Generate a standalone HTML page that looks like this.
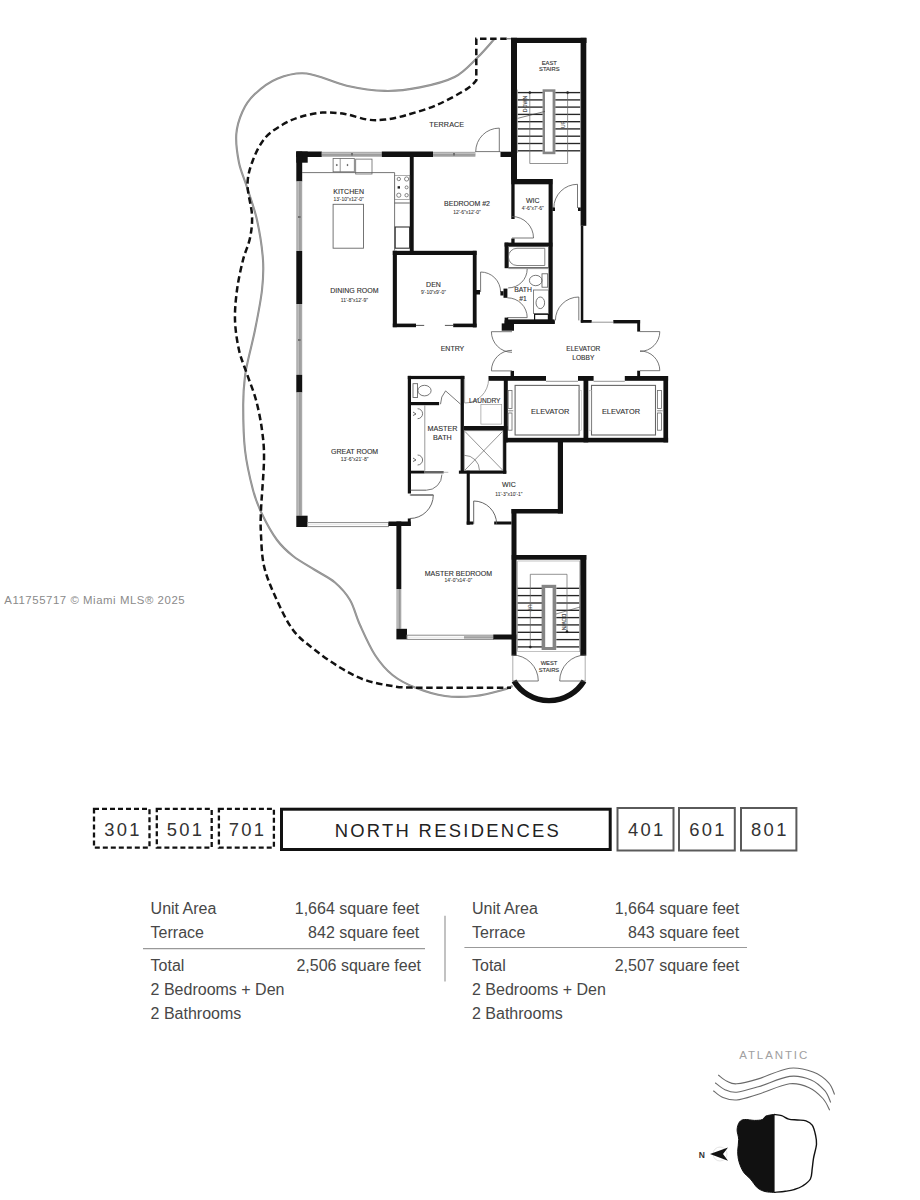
<!DOCTYPE html>
<html><head><meta charset="utf-8"><title>Floor plan</title>
<style>
html,body{margin:0;padding:0;background:#fff;}
body{width:920px;height:1200px;overflow:hidden;}
svg{display:block;font-family:"Liberation Sans", sans-serif;}
</style></head>
<body>
<svg width="920" height="1200" viewBox="0 0 920 1200">
<rect width="920" height="1200" fill="#fff"/>
<path d="M494.6,38.7 C491.7,41.9 483.9,51.4 477.2,57.8 C470.5,64.2 464.2,72.1 454.6,77.0 C445.0,81.9 431.4,85.1 419.8,87.4 C408.2,89.7 397.2,91.2 385.0,90.9 C372.8,90.6 359.8,88.6 346.7,85.7 C333.6,82.8 318.3,74.7 306.7,73.5 C295.1,72.3 285.9,75.2 277.2,78.7 C268.5,82.2 260.4,88.8 254.6,94.3 C248.8,99.8 245.4,105.0 242.4,111.7 C239.4,118.4 236.9,125.9 236.3,134.3 C235.7,142.7 237.2,153.5 238.9,162.2 C240.6,170.9 243.7,176.9 246.7,186.5 C249.7,196.1 254.3,207.8 257.0,220.0 C259.7,232.2 262.2,248.3 263.0,260.0 C263.8,271.7 263.3,278.3 262.0,290.0 C260.7,301.7 257.2,319.0 255.0,330.0 C252.8,341.0 250.7,348.3 249.0,356.0 C247.3,363.7 246.0,367.8 245.0,376.0 C244.0,384.2 243.2,392.7 243.2,405.0 C243.2,417.3 243.4,435.8 245.0,450.0 C246.6,464.2 250.2,479.3 253.0,490.0 C255.8,500.7 258.0,505.7 262.0,514.0 C266.0,522.3 271.8,533.0 277.0,540.0 C282.2,547.0 286.7,551.0 293.0,556.0 C299.3,561.0 308.0,565.6 315.0,570.0 C322.0,574.4 329.2,577.5 335.0,582.5 C340.8,587.5 345.8,592.9 350.0,600.0 C354.2,607.1 355.8,615.8 360.0,625.0 C364.2,634.2 369.6,646.7 375.0,655.0 C380.4,663.3 385.8,669.6 392.5,675.0 C399.2,680.4 406.2,684.0 415.0,687.5 C423.8,691.0 435.0,694.6 445.0,696.0 C455.0,697.4 465.4,697.0 475.0,696.0 C484.6,695.0 496.2,691.7 502.5,690.0 C508.8,688.3 510.8,686.7 512.5,686.0" fill="none" stroke="#8e8e8e" stroke-width="2.1"/>
<path d="M494.6,38.7 C491.7,41.9 483.9,51.4 477.2,57.8 C470.5,64.2 464.2,72.1 454.6,77.0 C445.0,81.9 431.4,85.1 419.8,87.4 C408.2,89.7 397.2,91.2 385.0,90.9 C372.8,90.6 359.8,88.6 346.7,85.7 C333.6,82.8 318.3,74.7 306.7,73.5 C295.1,72.3 285.9,75.2 277.2,78.7 C268.5,82.2 260.4,88.8 254.6,94.3 C248.8,99.8 245.4,105.0 242.4,111.7 C239.4,118.4 236.9,125.9 236.3,134.3 C235.7,142.7 237.2,153.5 238.9,162.2 C240.6,170.9 243.7,176.9 246.7,186.5 C249.7,196.1 254.3,207.8 257.0,220.0 C259.7,232.2 262.2,248.3 263.0,260.0 C263.8,271.7 263.3,278.3 262.0,290.0 C260.7,301.7 257.2,319.0 255.0,330.0 C252.8,341.0 250.7,348.3 249.0,356.0 C247.3,363.7 246.0,367.8 245.0,376.0 C244.0,384.2 243.2,392.7 243.2,405.0 C243.2,417.3 243.4,435.8 245.0,450.0 C246.6,464.2 250.2,479.3 253.0,490.0 C255.8,500.7 258.0,505.7 262.0,514.0 C266.0,522.3 271.8,533.0 277.0,540.0 C282.2,547.0 286.7,551.0 293.0,556.0 C299.3,561.0 308.0,565.6 315.0,570.0 C322.0,574.4 329.2,577.5 335.0,582.5 C340.8,587.5 345.8,592.9 350.0,600.0 C354.2,607.1 355.8,615.8 360.0,625.0 C364.2,634.2 369.6,646.7 375.0,655.0 C380.4,663.3 385.8,669.6 392.5,675.0 C399.2,680.4 406.2,684.0 415.0,687.5 C423.8,691.0 435.0,694.6 445.0,696.0 C455.0,697.4 465.4,697.0 475.0,696.0 C484.6,695.0 496.2,691.7 502.5,690.0 C508.8,688.3 510.8,686.7 512.5,686.0" fill="none" stroke="#a4a4a4" stroke-width="0.7"/>
<path d="M506.7,38.7 L476.3,38.7 L476.3,80.4 C474.7,81.9 473.2,85.0 466.7,89.1 C460.2,93.2 447.3,100.4 437.2,104.8 C427.1,109.2 414.6,112.7 405.9,115.2 C397.2,117.7 391.4,118.9 385.0,119.6 C378.6,120.3 374.3,120.5 367.6,119.6 C360.9,118.7 352.5,115.2 345.0,114.0 C337.5,112.8 329.9,112.1 322.4,112.6 C314.9,113.1 306.7,115.0 300.0,117.0 C293.3,119.0 288.2,121.3 282.4,124.8 C276.6,128.3 269.9,132.1 265.0,138.0 C260.1,143.9 255.9,152.3 253.0,160.0 C250.1,167.7 247.7,174.8 247.5,184.0 C247.3,193.2 251.6,206.0 252.0,215.0 C252.4,224.0 251.5,230.5 250.0,238.0 C248.5,245.5 245.2,251.3 243.0,260.0 C240.8,268.7 238.3,280.0 237.0,290.0 C235.7,300.0 234.7,310.0 235.0,320.0 C235.3,330.0 237.0,341.0 239.0,350.0 C241.0,359.0 244.2,365.7 247.0,374.0 C249.8,382.3 253.5,390.7 256.0,400.0 C258.5,409.3 260.7,420.0 262.0,430.0 C263.3,440.0 264.2,446.7 264.0,460.0 C263.8,473.3 261.5,497.5 261.0,510.0 C260.5,522.5 260.5,525.7 261.0,535.0 C261.5,544.3 261.7,555.8 264.0,566.0 C266.3,576.2 270.2,585.3 275.0,596.0 C279.8,606.7 286.3,621.0 293.0,630.0 C299.7,639.0 307.2,643.8 315.0,650.0 C322.8,656.2 331.7,662.5 340.0,667.5 C348.3,672.5 355.8,676.8 365.0,680.0 C374.2,683.2 386.7,685.2 395.0,686.5 C403.3,687.8 411.7,687.5 415.0,687.7 L511,687.7" fill="none" stroke="#111" stroke-width="2.5" stroke-dasharray="6.5,3.6"/>
<line x1="506.7" y1="38.7" x2="511.0" y2="38.7" stroke="#888" stroke-width="1.5"/>
<rect x="296.3" y="151.5" width="25.5" height="5.5" fill="#111"/>
<rect x="321.8" y="151.8" width="60.0" height="5.0" fill="#a9a9a9"/>
<line x1="321.8" y1="153.3" x2="381.8" y2="153.3" stroke="#c9c9c9" stroke-width="0.8"/>
<line x1="321.8" y1="154.9" x2="381.8" y2="154.9" stroke="#8f8f8f" stroke-width="0.7"/>
<rect x="381.8" y="151.5" width="51.2" height="5.5" fill="#111"/>
<rect x="433.0" y="151.8" width="42.4" height="5.0" fill="#a9a9a9"/>
<line x1="433.0" y1="153.3" x2="475.4" y2="153.3" stroke="#c9c9c9" stroke-width="0.8"/>
<line x1="433.0" y1="154.9" x2="475.4" y2="154.9" stroke="#8f8f8f" stroke-width="0.7"/>
<rect x="500.5" y="151.7" width="11.0" height="5.3" fill="#111"/>
<rect x="296.3" y="151.5" width="11.4" height="11.2" fill="#111"/>
<rect x="296.3" y="151.5" width="5.9" height="30.0" fill="#111"/>
<rect x="296.3" y="181.5" width="5.9" height="69.5" fill="#a9a9a9"/>
<line x1="298.2" y1="181.5" x2="298.2" y2="251.0" stroke="#c9c9c9" stroke-width="0.8"/>
<line x1="299.9" y1="181.5" x2="299.9" y2="251.0" stroke="#8f8f8f" stroke-width="0.7"/>
<rect x="296.3" y="251.0" width="5.9" height="53.0" fill="#111"/>
<rect x="296.3" y="304.0" width="5.9" height="70.8" fill="#a9a9a9"/>
<line x1="298.2" y1="304.0" x2="298.2" y2="374.8" stroke="#c9c9c9" stroke-width="0.8"/>
<line x1="299.9" y1="304.0" x2="299.9" y2="374.8" stroke="#8f8f8f" stroke-width="0.7"/>
<rect x="296.3" y="374.8" width="5.9" height="17.7" fill="#111"/>
<rect x="296.3" y="392.5" width="5.9" height="123.2" fill="#a9a9a9"/>
<line x1="298.2" y1="392.5" x2="298.2" y2="515.7" stroke="#c9c9c9" stroke-width="0.8"/>
<line x1="299.9" y1="392.5" x2="299.9" y2="515.7" stroke="#8f8f8f" stroke-width="0.7"/>
<rect x="296.3" y="515.7" width="11.3" height="11.3" fill="#111"/>
<rect x="307.6" y="522.6" width="80.9" height="4.0" fill="#fff" stroke="#8a8a8a" stroke-width="1"/>
<line x1="307.6" y1="524.6" x2="388.5" y2="524.6" stroke="#d8d8d8" stroke-width="0.6"/>
<rect x="388.5" y="521.5" width="22.2" height="4.5" fill="#111"/>
<rect x="407.8" y="518.5" width="2.9" height="7.5" fill="#111"/>
<rect x="396.4" y="521.5" width="4.9" height="67.5" fill="#111"/>
<rect x="396.4" y="589.0" width="4.9" height="39.8" fill="#a9a9a9"/>
<line x1="397.9" y1="589.0" x2="397.9" y2="628.8" stroke="#c9c9c9" stroke-width="0.8"/>
<line x1="399.5" y1="589.0" x2="399.5" y2="628.8" stroke="#8f8f8f" stroke-width="0.7"/>
<rect x="396.4" y="628.8" width="10.6" height="10.6" fill="#111"/>
<rect x="407.0" y="635.2" width="86.4" height="4.2" fill="#fff" stroke="#8a8a8a" stroke-width="1"/>
<line x1="407.0" y1="637.3" x2="493.4" y2="637.3" stroke="#d8d8d8" stroke-width="0.6"/>
<rect x="464.0" y="636.2" width="29.4" height="2.4" fill="#a0a0a0"/>
<rect x="493.4" y="634.5" width="23.1" height="5.0" fill="#111"/>
<rect x="511.5" y="509.0" width="5.0" height="146.7" fill="#111"/>
<rect x="511.5" y="509.0" width="51.5" height="4.5" fill="#111"/>
<rect x="557.8" y="439.0" width="5.2" height="74.5" fill="#111"/>
<rect x="466.7" y="470.5" width="3.1" height="54.1" fill="#111"/>
<rect x="466.7" y="521.5" width="6.6" height="3.1" fill="#111"/>
<rect x="494.2" y="521.5" width="17.3" height="3.0" fill="#111"/>
<rect x="488.5" y="376.0" width="57.5" height="4.8" fill="#111"/>
<rect x="578.0" y="376.0" width="15.6" height="4.8" fill="#111"/>
<rect x="624.8" y="376.0" width="43.3" height="4.8" fill="#111"/>
<rect x="503.8" y="376.0" width="4.0" height="66.4" fill="#111"/>
<rect x="503.8" y="437.8" width="164.3" height="4.6" fill="#111"/>
<rect x="663.4" y="376.0" width="4.7" height="66.4" fill="#111"/>
<rect x="583.5" y="376.0" width="4.8" height="66.4" fill="#111"/>
<rect x="463.9" y="426.0" width="43.7" height="4.6" fill="#111"/>
<rect x="407.8" y="375.9" width="56.8" height="3.2" fill="#111"/>
<rect x="407.8" y="375.9" width="3.2" height="117.6" fill="#111"/>
<rect x="460.6" y="375.9" width="3.3" height="97.1" fill="#111"/>
<rect x="411.0" y="402.0" width="28.1" height="3.2" fill="#111"/>
<rect x="411.0" y="470.7" width="13.6" height="2.8" fill="#111"/>
<rect x="458.9" y="470.6" width="47.4" height="3.1" fill="#111"/>
<rect x="503.0" y="430.0" width="3.3" height="43.7" fill="#111"/>
<rect x="409.8" y="157.0" width="3.9" height="94.0" fill="#111"/>
<rect x="392.8" y="250.8" width="83.8" height="4.2" fill="#111"/>
<rect x="392.8" y="250.8" width="4.1" height="76.4" fill="#111"/>
<rect x="472.8" y="250.8" width="3.8" height="76.6" fill="#111"/>
<rect x="392.8" y="323.6" width="23.2" height="3.6" fill="#111"/>
<rect x="453.2" y="323.6" width="23.4" height="3.6" fill="#111"/>
<rect x="476.0" y="290.0" width="4.0" height="4.5" fill="#111"/>
<rect x="511.0" y="37.8" width="6.0" height="141.7" fill="#111"/>
<rect x="511.0" y="37.8" width="75.5" height="5.2" fill="#111"/>
<rect x="580.6" y="37.8" width="5.7" height="188.0" fill="#111"/>
<rect x="580.8" y="225.8" width="2.5" height="96.7" fill="#111"/>
<rect x="511.3" y="179.0" width="41.1" height="5.3" fill="#111"/>
<rect x="511.3" y="179.0" width="3.3" height="40.0" fill="#111"/>
<rect x="548.6" y="179.0" width="4.1" height="145.0" fill="#111"/>
<rect x="511.3" y="238.5" width="3.3" height="4.5" fill="#111"/>
<rect x="504.6" y="242.6" width="47.8" height="4.0" fill="#111"/>
<rect x="504.6" y="242.6" width="3.8" height="25.6" fill="#111"/>
<rect x="504.6" y="320.4" width="50.2" height="3.6" fill="#111"/>
<rect x="580.8" y="320.0" width="10.9" height="2.8" fill="#111"/>
<rect x="613.3" y="320.0" width="26.8" height="3.4" fill="#111"/>
<rect x="637.2" y="320.0" width="2.9" height="11.6" fill="#111"/>
<rect x="637.2" y="370.7" width="2.9" height="5.8" fill="#111"/>
<rect x="505.8" y="319.4" width="48.7" height="4.0" fill="#111"/>
<rect x="501.7" y="323.4" width="12.3" height="7.3" fill="#111"/>
<rect x="510.6" y="370.9" width="3.4" height="5.6" fill="#111"/>
<rect x="511.7" y="555.0" width="74.6" height="4.7" fill="#111"/>
<rect x="580.3" y="555.0" width="6.0" height="100.7" fill="#111"/>
<path d="M514,681 A41,41 0 0 0 584,681" fill="none" stroke="#111" stroke-width="5.4"/>
<line x1="302.0" y1="172.6" x2="394.6" y2="172.6" stroke="#666" stroke-width="0.9"/>
<line x1="394.6" y1="172.6" x2="394.6" y2="250.8" stroke="#666" stroke-width="0.9"/>
<rect x="333.1" y="158.4" width="21.2" height="13.4" fill="none" stroke="#666" stroke-width="0.8" rx="0"/>
<line x1="340.2" y1="158.4" x2="340.2" y2="171.8" stroke="#666" stroke-width="0.7"/>
<circle cx="336.8" cy="165.0" r="0.6" fill="#444" stroke="#444" stroke-width="0.6"/>
<circle cx="347.5" cy="165.0" r="0.6" fill="#444" stroke="#444" stroke-width="0.6"/>
<rect x="355.7" y="159.1" width="16.3" height="14.9" fill="none" stroke="#666" stroke-width="0.8" rx="0"/>
<rect x="394.6" y="175.4" width="15.2" height="24.0" fill="none" stroke="#777" stroke-width="0.6" rx="0"/>
<circle cx="398.8" cy="179.0" r="1.7" fill="none" stroke="#555" stroke-width="0.7"/>
<circle cx="406.6" cy="179.0" r="2.1" fill="none" stroke="#555" stroke-width="0.7"/>
<circle cx="406.6" cy="187.4" r="1.5" fill="none" stroke="#555" stroke-width="0.7"/>
<circle cx="398.8" cy="195.2" r="2.1" fill="none" stroke="#555" stroke-width="0.7"/>
<circle cx="406.6" cy="195.2" r="1.7" fill="none" stroke="#555" stroke-width="0.7"/>
<rect x="397.6" y="186.2" width="2.4" height="2.4" fill="#222"/>
<line x1="394.6" y1="203.0" x2="409.8" y2="203.0" stroke="#555" stroke-width="0.9"/>
<rect x="395.2" y="227.0" width="14.4" height="21.2" fill="none" stroke="#333" stroke-width="1.1" rx="0"/>
<rect x="333.1" y="204.3" width="30.4" height="43.9" fill="none" stroke="#666" stroke-width="0.9" rx="0"/>
<rect x="508.4" y="246.6" width="40.2" height="21.0" fill="none" stroke="#555" stroke-width="0.9" rx="0"/>
<path d="M517,248.3 L544.8,248.3 L544.8,265.5 L517,265.5 A8.6,8.6 0 0 1 517,248.3 Z" fill="none" stroke="#666" stroke-width="0.8"/>
<line x1="508.4" y1="268.6" x2="548.6" y2="268.6" stroke="#666" stroke-width="0.7"/>
<rect x="542.0" y="273.8" width="5.7" height="13.4" fill="none" stroke="#555" stroke-width="0.8" rx="0"/>
<ellipse cx="535.7" cy="280.5" rx="6.3" ry="5.2" fill="none" stroke="#555" stroke-width="0.8"/>
<rect x="533.6" y="290.0" width="15.0" height="23.4" fill="none" stroke="#666" stroke-width="0.8" rx="0"/>
<ellipse cx="540.3" cy="302.8" rx="4.3" ry="5.8" fill="none" stroke="#555" stroke-width="0.8"/>
<rect x="534.6" y="314.3" width="13.8" height="6.1" fill="none" stroke="#111" stroke-width="1.2" rx="0"/>
<rect x="413.0" y="383.7" width="4.6" height="13.7" fill="none" stroke="#555" stroke-width="0.8" rx="0"/>
<ellipse cx="424.5" cy="390.6" rx="6.6" ry="5.3" fill="none" stroke="#555" stroke-width="0.8"/>
<line x1="424.8" y1="405.2" x2="424.8" y2="470.7" stroke="#999" stroke-width="1.0"/>
<path d="M417.6,408.7 A5,5 0 0 1 417.6,418.7" fill="none" stroke="#555" stroke-width="0.8"/>
<path d="M417.6,455 A5,5 0 0 1 417.6,465" fill="none" stroke="#555" stroke-width="0.8"/>
<line x1="413.0" y1="412.0" x2="416.0" y2="414.0" stroke="#444" stroke-width="0.8"/>
<line x1="413.0" y1="415.5" x2="416.0" y2="414.0" stroke="#444" stroke-width="0.8"/>
<line x1="413.0" y1="458.0" x2="416.0" y2="460.0" stroke="#444" stroke-width="0.8"/>
<line x1="413.0" y1="461.5" x2="416.0" y2="460.0" stroke="#444" stroke-width="0.8"/>
<line x1="465.0" y1="431.5" x2="502.5" y2="470.0" stroke="#666" stroke-width="0.7"/>
<line x1="502.5" y1="431.5" x2="465.0" y2="470.0" stroke="#666" stroke-width="0.7"/>
<rect x="464.3" y="430.8" width="38.7" height="39.8" fill="none" stroke="#777" stroke-width="0.6" rx="0"/>
<path d="M464.3,455.3 A15.2,15.2 0 0 1 479.5,470.5" fill="none" stroke="#666" stroke-width="0.7"/>
<rect x="424.6" y="471.0" width="19.1" height="2.5" fill="#666"/>
<line x1="443.7" y1="472.3" x2="448.3" y2="472.3" stroke="#888" stroke-width="0.6"/>
<rect x="480.9" y="404.6" width="20.8" height="19.5" fill="none" stroke="#999" stroke-width="0.7" rx="0"/>
<rect x="515.1" y="385.4" width="64.0" height="49.6" fill="none" stroke="#666" stroke-width="1.1" rx="0"/>
<rect x="591.5" y="385.4" width="64.0" height="49.6" fill="none" stroke="#666" stroke-width="1.1" rx="0"/>
<line x1="546.0" y1="381.3" x2="578.0" y2="381.3" stroke="#777" stroke-width="0.8"/>
<line x1="593.6" y1="381.3" x2="624.8" y2="381.3" stroke="#777" stroke-width="0.8"/>
<rect x="508.2" y="390.5" width="3.8" height="18.0" fill="none" stroke="#6a6a6a" stroke-width="0.8" rx="0"/>
<rect x="508.2" y="413.0" width="3.8" height="17.2" fill="none" stroke="#6a6a6a" stroke-width="0.8" rx="0"/>
<line x1="507.7" y1="410.8" x2="513.2" y2="410.8" stroke="#666" stroke-width="0.8"/>
<rect x="657.6" y="390.5" width="3.8" height="18.0" fill="none" stroke="#6a6a6a" stroke-width="0.8" rx="0"/>
<rect x="657.6" y="413.0" width="3.8" height="17.2" fill="none" stroke="#6a6a6a" stroke-width="0.8" rx="0"/>
<line x1="657.1" y1="410.8" x2="662.6" y2="410.8" stroke="#666" stroke-width="0.8"/>
<rect x="578.5" y="390.5" width="2.8" height="39.7" fill="none" stroke="#aaa" stroke-width="0.5" rx="0"/>
<rect x="589.0" y="390.5" width="2.8" height="39.7" fill="none" stroke="#aaa" stroke-width="0.5" rx="0"/>
<path d="M499.3,128.1 A23.6,23.6 0 0 0 475.7,151.7" fill="none" stroke="#555" stroke-width="0.8"/>
<line x1="499.3" y1="151.7" x2="499.3" y2="128.1" stroke="#555" stroke-width="0.8"/>
<line x1="475.4" y1="151.6" x2="500.5" y2="151.6" stroke="#555" stroke-width="0.8"/>
<path d="M577.5,184.3 A23.7,23.7 0 0 0 553.8,208.0" fill="none" stroke="#555" stroke-width="0.8"/>
<line x1="577.5" y1="208.0" x2="577.5" y2="184.3" stroke="#555" stroke-width="0.8"/>
<rect x="552.4" y="207.5" width="2.6" height="3.5" fill="#111"/>
<rect x="578.0" y="207.5" width="2.8" height="3.5" fill="#111"/>
<path d="M533.5,238.0 A21.5,21.5 0 0 0 512.0,216.5" fill="none" stroke="#555" stroke-width="0.8"/>
<line x1="512.0" y1="238.0" x2="533.5" y2="238.0" stroke="#555" stroke-width="0.8"/>
<path d="M480.6,272.0 A20.0,20.0 0 0 1 500.6,292.0" fill="none" stroke="#555" stroke-width="0.8"/>
<line x1="480.6" y1="292.0" x2="480.6" y2="272.0" stroke="#555" stroke-width="0.8"/>
<path d="M527.2,268.9 A19.0,19.0 0 0 1 508.2,287.9" fill="none" stroke="#555" stroke-width="0.8"/>
<path d="M527.2,317.6 A19.8,19.8 0 0 0 507.4,297.8" fill="none" stroke="#555" stroke-width="0.8"/>
<line x1="507.4" y1="317.6" x2="527.2" y2="317.6" stroke="#555" stroke-width="0.8"/>
<rect x="503.5" y="288.6" width="3.9" height="9.2" fill="#111"/>
<rect x="500.4" y="291.2" width="3.1" height="4.3" fill="#111"/>
<rect x="504.6" y="317.6" width="3.6" height="6.4" fill="#111"/>
<path d="M578.8,297.0 A23.4,23.4 0 0 0 555.4,320.4" fill="none" stroke="#555" stroke-width="0.8"/>
<line x1="578.8" y1="320.4" x2="578.8" y2="297.0" stroke="#555" stroke-width="0.8"/>
<path d="M491.4,331.7 A20.6,20.6 0 0 0 512.0,352.3" fill="none" stroke="#555" stroke-width="0.8"/>
<line x1="512.0" y1="331.7" x2="491.4" y2="331.7" stroke="#555" stroke-width="0.8"/>
<path d="M491.4,370.9 A20.6,20.6 0 0 1 512.0,350.3" fill="none" stroke="#555" stroke-width="0.8"/>
<line x1="512.0" y1="370.9" x2="491.4" y2="370.9" stroke="#555" stroke-width="0.8"/>
<path d="M659.8,331.6 A19.8,19.8 0 0 1 640.0,351.4" fill="none" stroke="#555" stroke-width="0.8"/>
<line x1="640.0" y1="331.6" x2="659.8" y2="331.6" stroke="#555" stroke-width="0.8"/>
<path d="M659.8,370.7 A19.8,19.8 0 0 0 640.0,350.9" fill="none" stroke="#555" stroke-width="0.8"/>
<line x1="640.0" y1="370.7" x2="659.8" y2="370.7" stroke="#555" stroke-width="0.8"/>
<path d="M464.6,403.0 A24.0,24.0 0 0 0 488.6,379.0" fill="none" stroke="#999" stroke-width="0.9"/>
<line x1="464.6" y1="379.0" x2="464.6" y2="403.0" stroke="#999" stroke-width="0.9"/>
<path d="M445.6,390.9 A20.1,20.1 0 0 0 440.5,404.2" fill="none" stroke="#555" stroke-width="0.8"/>
<line x1="460.6" y1="404.2" x2="445.6" y2="390.9" stroke="#555" stroke-width="0.8"/>
<path d="M441.9,474.6 A15.6,15.6 0 0 1 426.3,490.2" fill="none" stroke="#555" stroke-width="0.8"/>
<line x1="410.7" y1="490.2" x2="426.3" y2="490.2" stroke="#777" stroke-width="1.2"/>
<path d="M433.3,495.0 A23.5,23.5 0 0 1 409.8,518.5" fill="none" stroke="#555" stroke-width="0.9"/>
<line x1="409.8" y1="495.0" x2="433.3" y2="495.0" stroke="#555" stroke-width="0.9"/>
<line x1="410.7" y1="495.0" x2="433.3" y2="495.0" stroke="#777" stroke-width="1.4"/>
<path d="M473.7,501.0 A22.9,22.9 0 0 1 496.6,523.9" fill="none" stroke="#555" stroke-width="0.9"/>
<line x1="473.7" y1="523.9" x2="473.7" y2="501.0" stroke="#555" stroke-width="0.9"/>
<path d="M538.3,681.0 A26.0,26.0 0 0 0 512.3,655.0" fill="none" stroke="#555" stroke-width="0.8"/>
<line x1="512.3" y1="681.0" x2="538.3" y2="681.0" stroke="#555" stroke-width="0.8"/>
<path d="M559.7,681.0 A26.0,26.0 0 0 1 585.7,655.0" fill="none" stroke="#555" stroke-width="0.8"/>
<line x1="585.7" y1="681.0" x2="559.7" y2="681.0" stroke="#555" stroke-width="0.8"/>
<line x1="512.8" y1="655.7" x2="512.8" y2="681.0" stroke="#999" stroke-width="0.8"/>
<line x1="585.2" y1="655.7" x2="585.2" y2="681.0" stroke="#999" stroke-width="0.8"/>
<line x1="416.0" y1="325.4" x2="424.2" y2="325.4" stroke="#555" stroke-width="1.0"/>
<line x1="444.9" y1="325.4" x2="453.2" y2="325.4" stroke="#555" stroke-width="1.0"/>
<line x1="591.7" y1="322.2" x2="613.3" y2="322.2" stroke="#888" stroke-width="0.9"/>
<rect x="298.0" y="216.0" width="2.6" height="2.0" fill="#707070"/>
<rect x="298.0" y="339.0" width="2.6" height="2.0" fill="#707070"/>
<rect x="351.0" y="153.0" width="2.0" height="2.5" fill="#707070"/>
<rect x="453.0" y="153.0" width="2.0" height="2.5" fill="#707070"/>
<line x1="517.4" y1="92.6" x2="542.8" y2="92.6" stroke="#262626" stroke-width="1.35"/>
<line x1="555.2" y1="92.6" x2="580.6" y2="92.6" stroke="#262626" stroke-width="1.35"/>
<line x1="517.4" y1="99.9" x2="542.8" y2="99.9" stroke="#262626" stroke-width="1.35"/>
<line x1="555.2" y1="99.9" x2="580.6" y2="99.9" stroke="#262626" stroke-width="1.35"/>
<line x1="517.4" y1="107.1" x2="542.8" y2="107.1" stroke="#262626" stroke-width="1.35"/>
<line x1="555.2" y1="107.1" x2="580.6" y2="107.1" stroke="#262626" stroke-width="1.35"/>
<line x1="517.4" y1="114.4" x2="542.8" y2="114.4" stroke="#262626" stroke-width="1.35"/>
<line x1="555.2" y1="114.4" x2="580.6" y2="114.4" stroke="#262626" stroke-width="1.35"/>
<line x1="517.4" y1="121.7" x2="542.8" y2="121.7" stroke="#262626" stroke-width="1.35"/>
<line x1="555.2" y1="121.7" x2="580.6" y2="121.7" stroke="#262626" stroke-width="1.35"/>
<line x1="517.4" y1="128.9" x2="542.8" y2="128.9" stroke="#262626" stroke-width="1.35"/>
<line x1="555.2" y1="128.9" x2="580.6" y2="128.9" stroke="#262626" stroke-width="1.35"/>
<line x1="517.4" y1="136.2" x2="542.8" y2="136.2" stroke="#262626" stroke-width="1.35"/>
<line x1="555.2" y1="136.2" x2="580.6" y2="136.2" stroke="#262626" stroke-width="1.35"/>
<line x1="517.4" y1="143.5" x2="542.8" y2="143.5" stroke="#262626" stroke-width="1.35"/>
<line x1="555.2" y1="143.5" x2="580.6" y2="143.5" stroke="#262626" stroke-width="1.35"/>
<line x1="517.4" y1="150.8" x2="542.8" y2="150.8" stroke="#262626" stroke-width="1.35"/>
<line x1="555.2" y1="150.8" x2="580.6" y2="150.8" stroke="#262626" stroke-width="1.35"/>
<line x1="517.4" y1="89.6" x2="517.4" y2="152.8" stroke="#999" stroke-width="0.8"/>
<line x1="580.6" y1="89.6" x2="580.6" y2="152.8" stroke="#999" stroke-width="0.8"/>
<rect x="542.6" y="89.3" width="12.8" height="64.9" fill="#858585"/>
<rect x="545.0" y="91.8" width="7.6" height="59.8" fill="#fff"/>
<line x1="529.8" y1="92.6" x2="529.8" y2="163.5" stroke="#666" stroke-width="0.7"/>
<line x1="567.6" y1="92.6" x2="567.6" y2="163.5" stroke="#666" stroke-width="0.7"/>
<line x1="529.8" y1="163.5" x2="567.6" y2="163.5" stroke="#666" stroke-width="0.7"/>
<circle cx="529.8" cy="92.6" r="1.1" fill="#222" stroke="#222" stroke-width="0.5"/>
<circle cx="567.6" cy="92.6" r="1.1" fill="#222" stroke="#222" stroke-width="0.5"/>
<line x1="517.8" y1="118.3" x2="545.0" y2="111.4" stroke="#444" stroke-width="0.7"/>
<text x="527.0" y="104.0" font-size="5.2" text-anchor="middle" fill="#444" stroke="#444" stroke-width="0.12" letter-spacing="0" transform="rotate(-90 527 104)">DOWN</text>
<text x="565.0" y="124.5" font-size="5" text-anchor="middle" fill="#444" stroke="#444" stroke-width="0.06" letter-spacing="0" transform="rotate(-90 565 124.5)">UP</text>
<line x1="517.0" y1="588.3" x2="542.3" y2="588.3" stroke="#262626" stroke-width="1.35"/>
<line x1="556.3" y1="588.3" x2="579.7" y2="588.3" stroke="#262626" stroke-width="1.35"/>
<line x1="517.0" y1="595.6" x2="542.3" y2="595.6" stroke="#262626" stroke-width="1.35"/>
<line x1="556.3" y1="595.6" x2="579.7" y2="595.6" stroke="#262626" stroke-width="1.35"/>
<line x1="517.0" y1="603.0" x2="542.3" y2="603.0" stroke="#262626" stroke-width="1.35"/>
<line x1="556.3" y1="603.0" x2="579.7" y2="603.0" stroke="#262626" stroke-width="1.35"/>
<line x1="517.0" y1="610.3" x2="542.3" y2="610.3" stroke="#262626" stroke-width="1.35"/>
<line x1="556.3" y1="610.3" x2="579.7" y2="610.3" stroke="#262626" stroke-width="1.35"/>
<line x1="517.0" y1="617.6" x2="542.3" y2="617.6" stroke="#262626" stroke-width="1.35"/>
<line x1="556.3" y1="617.6" x2="579.7" y2="617.6" stroke="#262626" stroke-width="1.35"/>
<line x1="517.0" y1="624.9" x2="542.3" y2="624.9" stroke="#262626" stroke-width="1.35"/>
<line x1="556.3" y1="624.9" x2="579.7" y2="624.9" stroke="#262626" stroke-width="1.35"/>
<line x1="517.0" y1="632.3" x2="542.3" y2="632.3" stroke="#262626" stroke-width="1.35"/>
<line x1="556.3" y1="632.3" x2="579.7" y2="632.3" stroke="#262626" stroke-width="1.35"/>
<line x1="517.0" y1="639.6" x2="542.3" y2="639.6" stroke="#262626" stroke-width="1.35"/>
<line x1="556.3" y1="639.6" x2="579.7" y2="639.6" stroke="#262626" stroke-width="1.35"/>
<line x1="517.0" y1="646.9" x2="542.3" y2="646.9" stroke="#262626" stroke-width="1.35"/>
<line x1="556.3" y1="646.9" x2="579.7" y2="646.9" stroke="#262626" stroke-width="1.35"/>
<line x1="517.0" y1="585.3" x2="517.0" y2="648.9" stroke="#999" stroke-width="0.8"/>
<line x1="579.7" y1="585.3" x2="579.7" y2="648.9" stroke="#999" stroke-width="0.8"/>
<rect x="541.6" y="584.8" width="14.6" height="65.2" fill="#858585"/>
<rect x="545.2" y="588.0" width="7.4" height="59.0" fill="#fff"/>
<line x1="530.3" y1="574.3" x2="567.0" y2="574.3" stroke="#666" stroke-width="0.7"/>
<line x1="530.3" y1="574.3" x2="530.3" y2="647.0" stroke="#666" stroke-width="0.7"/>
<line x1="567.0" y1="574.3" x2="567.0" y2="631.7" stroke="#666" stroke-width="0.7"/>
<circle cx="530.3" cy="647.0" r="1.1" fill="#222" stroke="#222" stroke-width="0.5"/>
<circle cx="567.0" cy="631.7" r="1.1" fill="#222" stroke="#222" stroke-width="0.5"/>
<rect x="517.7" y="561.0" width="62.0" height="90.7" fill="none" stroke="#999" stroke-width="0.6" rx="0"/>
<line x1="556.0" y1="614.0" x2="580.0" y2="607.0" stroke="#444" stroke-width="0.6"/>
<text x="528.0" y="608.0" font-size="5" text-anchor="middle" fill="#444" stroke="#444" stroke-width="0.06" letter-spacing="0" transform="rotate(90 528 608)">UP</text>
<text x="561.5" y="622.0" font-size="5.2" text-anchor="middle" fill="#444" stroke="#444" stroke-width="0.12" letter-spacing="0" transform="rotate(90 561.5 622)">DOWN</text>
<text x="446.7" y="126.7" font-size="7.2" text-anchor="middle" fill="#303030" stroke="#303030" stroke-width="0.12" letter-spacing="0.1" >TERRACE</text>
<text x="549.3" y="64.8" font-size="5.8" text-anchor="middle" fill="#303030" stroke="#303030" stroke-width="0.12" letter-spacing="0" >EAST</text>
<text x="549.3" y="71.4" font-size="5.8" text-anchor="middle" fill="#303030" stroke="#303030" stroke-width="0.12" letter-spacing="0" >STAIRS</text>
<text x="348.6" y="194.2" font-size="7" text-anchor="middle" fill="#303030" stroke="#303030" stroke-width="0.12" letter-spacing="0" >KITCHEN</text>
<text x="348.6" y="201.2" font-size="4.95" text-anchor="middle" fill="#303030" stroke="#303030" stroke-width="0.06" letter-spacing="0" >13'-10"x12'-0"</text>
<text x="467.0" y="206.0" font-size="7" text-anchor="middle" fill="#303030" stroke="#303030" stroke-width="0.12" letter-spacing="0" >BEDROOM #2</text>
<text x="467.0" y="214.0" font-size="4.95" text-anchor="middle" fill="#303030" stroke="#303030" stroke-width="0.06" letter-spacing="0" >12'-6"x12'-0"</text>
<text x="532.8" y="202.5" font-size="7" text-anchor="middle" fill="#303030" stroke="#303030" stroke-width="0.12" letter-spacing="0" >WIC</text>
<text x="532.8" y="210.3" font-size="4.95" text-anchor="middle" fill="#303030" stroke="#303030" stroke-width="0.06" letter-spacing="0" >4'-6"x7'-6"</text>
<text x="433.5" y="286.6" font-size="7" text-anchor="middle" fill="#303030" stroke="#303030" stroke-width="0.12" letter-spacing="0" >DEN</text>
<text x="433.5" y="293.5" font-size="4.95" text-anchor="middle" fill="#303030" stroke="#303030" stroke-width="0.06" letter-spacing="0" >9'-10"x9'-0"</text>
<text x="523.0" y="292.0" font-size="6.8" text-anchor="middle" fill="#303030" stroke="#303030" stroke-width="0.12" letter-spacing="0" >BATH</text>
<text x="523.0" y="301.2" font-size="6.8" text-anchor="middle" fill="#303030" stroke="#303030" stroke-width="0.12" letter-spacing="0" >#1</text>
<text x="354.4" y="293.2" font-size="7" text-anchor="middle" fill="#303030" stroke="#303030" stroke-width="0.12" letter-spacing="0" >DINING ROOM</text>
<text x="354.4" y="301.5" font-size="4.95" text-anchor="middle" fill="#303030" stroke="#303030" stroke-width="0.06" letter-spacing="0" >11'-8"x12'-9"</text>
<text x="452.5" y="351.0" font-size="7" text-anchor="middle" fill="#303030" stroke="#303030" stroke-width="0.12" letter-spacing="0" >ENTRY</text>
<text x="583.3" y="350.6" font-size="6.6" text-anchor="middle" fill="#303030" stroke="#303030" stroke-width="0.12" letter-spacing="0" >ELEVATOR</text>
<text x="583.3" y="359.5" font-size="6.6" text-anchor="middle" fill="#303030" stroke="#303030" stroke-width="0.12" letter-spacing="0" >LOBBY</text>
<text x="484.8" y="403.0" font-size="6.6" text-anchor="middle" fill="#303030" stroke="#303030" stroke-width="0.12" letter-spacing="0" >LAUNDRY</text>
<text x="442.4" y="430.6" font-size="7.2" text-anchor="middle" fill="#303030" stroke="#303030" stroke-width="0.12" letter-spacing="0" >MASTER</text>
<text x="442.4" y="440.4" font-size="7.2" text-anchor="middle" fill="#303030" stroke="#303030" stroke-width="0.12" letter-spacing="0" >BATH</text>
<text x="550.2" y="414.0" font-size="7.4" text-anchor="middle" fill="#303030" stroke="#303030" stroke-width="0.12" letter-spacing="0" >ELEVATOR</text>
<text x="621.0" y="414.0" font-size="7.4" text-anchor="middle" fill="#303030" stroke="#303030" stroke-width="0.12" letter-spacing="0" >ELEVATOR</text>
<text x="354.6" y="454.4" font-size="7" text-anchor="middle" fill="#303030" stroke="#303030" stroke-width="0.12" letter-spacing="0" >GREAT ROOM</text>
<text x="354.6" y="461.0" font-size="4.95" text-anchor="middle" fill="#303030" stroke="#303030" stroke-width="0.06" letter-spacing="0" >13'-6"x21'-8"</text>
<text x="508.9" y="487.4" font-size="7" text-anchor="middle" fill="#303030" stroke="#303030" stroke-width="0.12" letter-spacing="0" >WIC</text>
<text x="508.9" y="496.0" font-size="4.95" text-anchor="middle" fill="#303030" stroke="#303030" stroke-width="0.06" letter-spacing="0" >11'-3"x10'-1"</text>
<text x="458.4" y="576.0" font-size="7" text-anchor="middle" fill="#303030" stroke="#303030" stroke-width="0.12" letter-spacing="0" >MASTER BEDROOM</text>
<text x="458.4" y="582.0" font-size="4.95" text-anchor="middle" fill="#303030" stroke="#303030" stroke-width="0.06" letter-spacing="0" >14'-0"x14'-0"</text>
<text x="549.0" y="665.3" font-size="5.8" text-anchor="middle" fill="#303030" stroke="#303030" stroke-width="0.12" letter-spacing="0" >WEST</text>
<text x="549.0" y="672.0" font-size="5.8" text-anchor="middle" fill="#303030" stroke="#303030" stroke-width="0.12" letter-spacing="0" >STAIRS</text>
<rect x="94.0" y="808.8" width="55.5" height="38.8" fill="none" stroke="#111" stroke-width="2.3" stroke-dasharray="5,3"/>
<rect x="156.8" y="808.8" width="54.9" height="38.8" fill="none" stroke="#111" stroke-width="2.3" stroke-dasharray="5,3"/>
<rect x="218.9" y="808.8" width="55.0" height="38.8" fill="none" stroke="#111" stroke-width="2.3" stroke-dasharray="5,3"/>
<rect x="281.5" y="809.2" width="328.7" height="40.3" fill="none" stroke="#111" stroke-width="3"/>
<rect x="617.5" y="808" width="56.0" height="42.5" fill="none" stroke="#5a5a5a" stroke-width="2"/>
<rect x="679.0" y="808" width="55.8" height="42.5" fill="none" stroke="#5a5a5a" stroke-width="2"/>
<rect x="741.0" y="808" width="55.4" height="42.5" fill="none" stroke="#5a5a5a" stroke-width="2"/>
<text x="123.0" y="835.5" font-size="18.4" text-anchor="middle" fill="#333" letter-spacing="2.3">301</text>
<text x="185.5" y="835.5" font-size="18.4" text-anchor="middle" fill="#333" letter-spacing="2.3">501</text>
<text x="247.6" y="835.5" font-size="18.4" text-anchor="middle" fill="#333" letter-spacing="2.3">701</text>
<text x="646.7" y="835.5" font-size="18.4" text-anchor="middle" fill="#333" letter-spacing="2.3">401</text>
<text x="708.1" y="835.5" font-size="18.4" text-anchor="middle" fill="#333" letter-spacing="2.3">601</text>
<text x="769.9" y="835.5" font-size="18.4" text-anchor="middle" fill="#333" letter-spacing="2.3">801</text>
<text x="447.9" y="836.8" font-size="18.4" text-anchor="middle" fill="#222" letter-spacing="2.3">NORTH RESIDENCES</text>
<text x="150.6" y="913.5" font-size="16" text-anchor="start" fill="#474747">Unit Area</text>
<text x="419.3" y="913.5" font-size="16" text-anchor="end" fill="#474747">1,664 square feet</text>
<text x="150.6" y="938.0" font-size="16" text-anchor="start" fill="#474747">Terrace</text>
<text x="419.3" y="938.0" font-size="16" text-anchor="end" fill="#474747">842 square feet</text>
<line x1="143" y1="948.7" x2="425" y2="948.7" stroke="#999" stroke-width="1.2"/>
<text x="150.6" y="970.5" font-size="16" text-anchor="start" fill="#474747">Total</text>
<text x="421.0" y="970.5" font-size="16" text-anchor="end" fill="#474747">2,506 square feet</text>
<text x="150.6" y="994.5" font-size="16" text-anchor="start" fill="#474747">2 Bedrooms + Den</text>
<text x="150.6" y="1018.8" font-size="16" text-anchor="start" fill="#474747">2 Bathrooms</text>
<line x1="445" y1="915.8" x2="445" y2="981.5" stroke="#999" stroke-width="1.2"/>
<text x="472.0" y="913.5" font-size="16" text-anchor="start" fill="#474747">Unit Area</text>
<text x="739.2" y="913.5" font-size="16" text-anchor="end" fill="#474747">1,664 square feet</text>
<text x="472.0" y="938.0" font-size="16" text-anchor="start" fill="#474747">Terrace</text>
<text x="739.2" y="938.0" font-size="16" text-anchor="end" fill="#474747">843 square feet</text>
<line x1="464.4" y1="947.5" x2="747" y2="947.5" stroke="#999" stroke-width="1.2"/>
<text x="472.0" y="970.5" font-size="16" text-anchor="start" fill="#474747">Total</text>
<text x="739.2" y="970.5" font-size="16" text-anchor="end" fill="#474747">2,507 square feet</text>
<text x="472.0" y="994.5" font-size="16" text-anchor="start" fill="#474747">2 Bedrooms + Den</text>
<text x="472.0" y="1018.8" font-size="16" text-anchor="start" fill="#474747">2 Bathrooms</text>
<text x="4.3" y="604.4" font-size="11.4" letter-spacing="0.55" fill="#8a8a8a">A11755717 © Miami MLS® 2025</text>
<text x="774.2" y="1059.4" font-size="11.5" text-anchor="middle" fill="#a0a0a0" letter-spacing="1.9">ATLANTIC</text>
<path d="M718.2,1075.0 C719.7,1076.0 723.9,1079.8 727.0,1081.3 C730.1,1082.8 731.5,1084.2 736.7,1083.8 C741.9,1083.4 749.5,1081.5 758.3,1078.9 C767.1,1076.3 780.5,1069.3 789.6,1068.2 C798.7,1067.1 806.6,1069.7 813.1,1072.1 C819.6,1074.5 825.1,1079.0 828.7,1082.8 C832.3,1086.5 833.6,1092.6 834.6,1094.6" fill="none" stroke="#6a6a6a" stroke-width="1.1"/>
<path d="M715.2,1082.8 C716.8,1084.0 721.4,1088.1 725.0,1089.7 C728.6,1091.3 731.2,1092.7 736.7,1092.2 C742.2,1091.7 749.5,1089.4 758.3,1086.8 C767.1,1084.2 780.8,1077.6 789.6,1076.4 C798.4,1075.2 805.2,1077.5 811.1,1079.9 C817.0,1082.3 821.5,1087.0 824.8,1090.7 C828.1,1094.5 829.7,1100.5 830.7,1102.4" fill="none" stroke="#6a6a6a" stroke-width="1.1"/>
<path d="M713.3,1090.7 C714.9,1091.8 719.1,1096.0 723.0,1097.5 C726.9,1099.0 730.8,1100.5 736.7,1100.0 C742.6,1099.5 749.5,1096.9 758.3,1094.2 C767.1,1091.5 781.1,1084.9 789.6,1083.8 C798.1,1082.7 803.7,1085.2 809.2,1087.7 C814.8,1090.2 819.5,1094.8 822.9,1098.5 C826.3,1102.2 828.6,1108.2 829.7,1110.2" fill="none" stroke="#6a6a6a" stroke-width="1.1"/>
<path d="M773.5,1114.5 C772.2,1114.8 767.9,1115.2 766.0,1116.0 C764.1,1116.8 764.1,1118.9 762.2,1119.6 C760.3,1120.3 757.3,1120.4 754.4,1120.4 C751.5,1120.4 747.1,1119.2 744.6,1119.5 C742.1,1119.8 740.8,1120.3 739.5,1122.0 C738.2,1123.7 737.2,1126.9 737.1,1129.8 C737.0,1132.7 738.6,1136.0 738.7,1139.6 C738.8,1143.2 737.7,1147.6 737.7,1151.3 C737.8,1155.0 738.0,1158.2 739.0,1161.7 C740.0,1165.2 741.6,1169.1 743.5,1172.0 C745.4,1174.9 748.1,1176.4 750.4,1179.0 C752.7,1181.6 755.0,1185.7 757.4,1187.8 C759.8,1189.9 762.3,1190.7 765.0,1191.5 C767.7,1192.3 772.1,1192.2 773.5,1192.4 Z" fill="#111" stroke="#111" stroke-width="1"/>
<path d="M774.0,1114.5 C775.3,1114.7 779.2,1114.9 781.7,1115.7 C784.2,1116.5 786.1,1118.4 788.7,1119.1 C791.3,1119.8 794.5,1119.7 797.4,1120.0 C800.3,1120.3 803.5,1120.0 806.0,1120.9 C808.5,1121.8 810.6,1122.9 812.2,1125.2 C813.8,1127.5 814.8,1131.8 815.5,1135.0 C816.2,1138.2 816.8,1140.4 816.5,1144.3 C816.2,1148.2 814.2,1154.2 813.5,1158.3 C812.8,1162.4 812.7,1165.2 812.2,1168.7 C811.7,1172.2 812.0,1176.1 810.4,1179.0 C808.8,1181.9 805.3,1184.2 802.6,1186.0 C799.9,1187.8 796.9,1188.7 794.0,1189.6 C791.1,1190.5 788.5,1190.8 785.2,1191.3 C781.9,1191.8 775.9,1192.2 774.0,1192.4" fill="none" stroke="#111" stroke-width="1.4"/>
<line x1="773.6" y1="1114.5" x2="773.6" y2="1192.4" stroke="#111" stroke-width="2"/>
<text x="701.8" y="1157.6" font-size="8.5" font-weight="bold" text-anchor="middle" fill="#333">N</text>
<circle cx="720" cy="1154" r="7" fill="none" stroke="#ddd" stroke-width="0.8"/>
<path d="M710,1154 L728,1147.4 L723,1154 L728,1160.7 Z" fill="#111"/>
</svg>
</body></html>
